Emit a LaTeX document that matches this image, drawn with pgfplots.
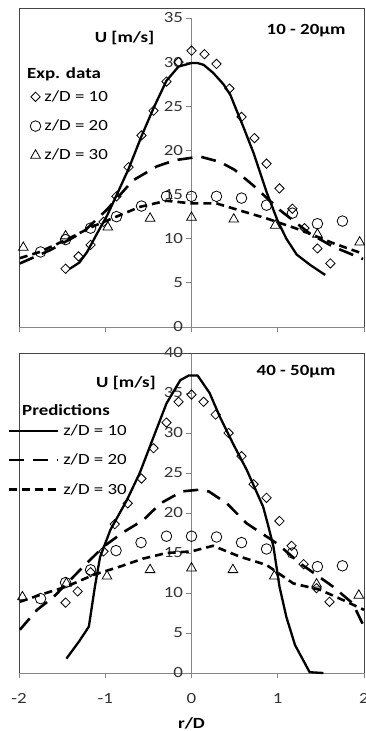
\documentclass[border=0pt]{standalone}
\usepackage{pgfplots}
\pgfplotsset{compat=1.18}
\usepackage{fontspec}
\setmainfont{Carlito}[FakeStretch=1.22]
\definecolor{axisgray}{RGB}{134,134,134}
\definecolor{framecol}{RGB}{70,70,70}
\definecolor{txtcol}{RGB}{50,50,50}

\pgfplotstableread{
x y
-1.46 6.6
-1.31 8.0
-1.17 9.3
-1.02 11.9
-0.87 14.8
-0.73 18.1
-0.58 21.7
-0.44 24.5
-0.29 27.8
-0.15 30.0
0 31.3
0.15 30.9
0.29 29.8
0.44 27.0
0.58 23.8
0.73 21.4
0.87 18.5
1.02 15.7
1.17 13.4
1.31 11.2
1.46 8.9
1.61 7.2
}\TexpA
\pgfplotstableread{
x y
-1.75 8.5
-1.46 9.9
-1.17 11.2
-0.87 12.5
-0.58 13.7
-0.29 14.8
0 14.8
0.29 14.8
0.58 14.6
0.87 13.8
1.17 12.9
1.46 11.7
1.75 12.0
}\TexpB
\pgfplotstableread{
x y
-1.95 9.0
-1.46 10.3
-0.97 11.3
-0.48 12.3
0 12.4
0.49 12.2
0.97 11.5
1.46 10.5
1.95 9.6
}\TexpC
\pgfplotstableread{
x y
-1.41 6.6
-1.30 7.3
-1.21 8.5
-1.10 10.5
-0.98 12.6
-0.87 14.9
-0.73 17.9
-0.58 21.6
-0.44 24.8
-0.29 27.9
-0.15 29.5
0 29.9
0.07 29.9
0.14 29.7
0.25 28.8
0.37 27.5
0.45 26.3
0.52 24.6
0.60 22.7
0.72 19.7
0.87 15.3
1.00 12.0
1.10 10.0
1.22 8.2
1.38 7.0
1.55 5.9
}\TpreA
\pgfplotstableread{
x y
-1.99 7.2
-1.64 8.7
-1.25 10.8
-0.98 13.3
-0.68 16.6
-0.40 18.2
-0.19 18.9
0.10 19.3
0.33 18.7
0.50 17.8
0.72 16.0
1.03 13.2
1.37 10.6
1.64 9.1
1.99 7.7
}\TpreB
\pgfplotstableread{
x y
-1.99 7.8
-1.76 8.5
-1.45 9.9
-1.14 11.4
-0.87 12.5
-0.60 13.6
-0.29 14.3
0 14.0
0.29 14.0
0.56 13.2
0.87 12.3
1.26 11.0
1.64 9.5
1.99 8.3
}\TpreC

\pgfplotstableread{
x y
-1.46 8.8
-1.32 10.2
-1.17 12.6
-1.02 15.2
-0.89 18.6
-0.74 21.2
-0.58 24.3
-0.44 28.1
-0.29 31.3
-0.15 33.9
0 34.8
0.14 33.9
0.28 32.3
0.43 30.0
0.58 27.1
0.72 23.6
0.87 21.9
1.02 19.0
1.16 15.9
1.30 13.6
1.45 10.6
1.60 8.9
}\BexpA
\pgfplotstableread{
x y
-1.75 9.3
-1.46 11.3
-1.17 12.9
-0.875 15.3
-0.585 16.3
-0.29 17.1
0 17.1
0.29 17.0
0.58 16.3
0.87 15.5
1.17 15.0
1.46 13.3
1.75 13.4
}\BexpB
\pgfplotstableread{
x y
-1.96 9.5
-1.45 11.2
-0.98 12.1
-0.48 12.9
0 13.1
0.48 12.9
0.96 12.1
1.45 11.1
1.94 9.7
}\BexpC
\pgfplotstableread{
x y
-1.45 1.8
-1.30 4.0
-1.19 5.8
-1.12 10.8
-1.06 14.5
-0.94 17.9
-0.75 21.6
-0.60 25.0
-0.44 29.5
-0.29 33.7
-0.13 36.6
-0.03 37.2
0.07 37.2
0.21 35.0
0.33 32.0
0.48 28.7
0.64 25.4
0.83 20.8
0.88 18.8
0.95 15.8
1.02 10.8
1.10 7.0
1.20 3.5
1.37 0.1
1.53 0.0
}\BpreA
\pgfplotstableread{
x y
-1.99 5.4
-1.79 7.9
-1.60 9.5
-1.29 12.9
-1.02 15.8
-0.79 17.6
-0.56 19.1
-0.36 21.2
-0.11 22.7
0.08 22.9
0.20 22.7
0.41 21.2
0.64 18.7
0.99 16.2
1.26 13.7
1.64 10.8
1.87 8.7
2.00 5.8
}\BpreB
\pgfplotstableread{
x y
-1.99 8.9
-1.76 9.75
-1.45 10.8
-1.14 12.25
-0.83 13.3
-0.56 14.3
-0.29 15.0
0 15.2
0.25 15.9
0.56 14.55
0.87 13.5
1.18 11.2
1.49 10.4
1.76 9.1
2.00 7.9
}\BpreC

\pgfplotsset{
  chartbase/.style={
    scale only axis, width=345pt,
    xmin=-2, xmax=2, ymin=0,
    axis x line=bottom, axis y line=middle,
    axis line style={draw=axisgray, line width=0.9pt, -},
    tick style={draw=axisgray, line width=0.9pt},
    major tick length=5pt,
    tick align=outside,
    hide obscured x ticks=false,
    hide obscured y ticks=false,
    xtick={-2,-1,0,1,2},
    ticklabel style={font=\fontsize{15.5}{17}\selectfont, text=txtcol},
    clip=false,
    /pgf/number format/assume math mode=true,
    legend cell align=left,
  },
  expA/.style={only marks, mark=square, mark size=3.3pt, mark options={rotate=45, draw=black, line width=0.8pt, fill=none}},
  expB/.style={only marks, mark=o, mark size=5.3pt, mark options={draw=black, line width=0.8pt}},
  expC/.style={only marks, mark=triangle, mark size=5.6pt, mark options={draw=black, line width=0.8pt}},
  preA/.style={black, line width=2.3pt, no marks},
  preB/.style={black, line width=2.6pt, no marks, dash pattern=on 15pt off 9pt},
  preC/.style={black, line width=2.6pt, no marks, dash pattern=on 8pt off 5pt},
}

\begin{document}
\begin{tikzpicture}
\useasboundingbox (-19pt,-404pt) rectangle (347pt,327pt);
% ---------------- top panel ----------------
\begin{axis}[chartbase,
  at={(0pt,0pt)}, anchor=south west,
  height=309pt, ymax=35,
  ytick={0,5,...,35},
  xticklabels={,,,,},
  ylabel={\bfseries U [m/s]},
  ylabel style={at={(axis description cs:0.306,0.935)}, anchor=center, font=\fontsize{15.5}{17}\selectfont, text=black},
  legend style={draw=none, fill=none, at={(axis description cs:0.032,0.767)}, anchor=north west,
    inner sep=0pt, row sep=16pt, column sep=3pt,
    font=\fontsize{15.5}{17}\selectfont, nodes={inner sep=0.5pt}},
]
\draw[framecol, line width=0.9pt] (axis cs:-2,0) -- (axis cs:-2,36.13) -- (axis cs:2.01,36.13) -- (axis cs:2.01,0);
\addplot[expA] table {\TexpA}; \addlegendentry{z/D = 10}
\addplot[expB] table {\TexpB}; \addlegendentry{z/D = 20}
\addplot[expC] table {\TexpC}; \addlegendentry{z/D = 30}
\addplot[preA, forget plot] table {\TpreA};
\addplot[preB, forget plot] table {\TpreB};
\addplot[preC, forget plot] table {\TpreC};
\node[font=\fontsize{15.5}{17}\selectfont\bfseries, anchor=center, inner sep=0pt] at (axis description cs:0.832,0.958) {10 - 20μm};
\node[font=\fontsize{15.5}{17}\selectfont\bfseries, anchor=west, inner sep=0pt] at (axis description cs:0.023,0.819) {Exp. data};
\end{axis}
% ---------------- bottom panel ----------------
\begin{axis}[chartbase,
  at={(0pt,-346pt)}, anchor=south west,
  height=320pt, ymax=40,
  ytick={0,5,...,40},
  xticklabels={-2,-1,0,1,2},
  xticklabel style={yshift=-12pt},
  xlabel={\bfseries r/D},
  xlabel style={at={(axis description cs:0.5,0)}, anchor=center, yshift=-50pt, font=\fontsize{15.5}{17}\selectfont, text=black},
  ylabel={\bfseries U [m/s]},
  ylabel style={at={(axis description cs:0.310,0.906)}, anchor=center, font=\fontsize{15.5}{17}\selectfont, text=black},
  legend image code/.code={\draw[#1] (0pt,0pt) -- (49pt,0pt);},
  legend style={draw=none, fill=none, at={(axis description cs:-0.032,0.778)}, anchor=north west,
    inner sep=0pt, row sep=16pt, column sep=3pt,
    font=\fontsize{15.5}{17}\selectfont, nodes={inner sep=0.5pt}},
]
\draw[framecol, line width=0.9pt] (axis cs:-2,0) -- (axis cs:-2,40) -- (axis cs:2,40) -- (axis cs:2,0);
\addplot[preA] table {\BpreA}; \addlegendentry{z/D = 10}
\addplot[preB] table {\BpreB}; \addlegendentry{z/D = 20}
\addplot[preC] table {\BpreC}; \addlegendentry{z/D = 30}
\addplot[expA, forget plot] table {\BexpA};
\addplot[expB, forget plot] table {\BexpB};
\addplot[expC, forget plot] table {\BexpC};
\node[font=\fontsize{15.5}{17}\selectfont\bfseries, anchor=center, inner sep=0pt] at (axis description cs:0.803,0.941) {40 - 50μm};
\node[font=\fontsize{15.5}{17}\selectfont\bfseries, anchor=west, inner sep=0pt] at (axis description cs:0.0087,0.822) {Predictions};
\end{axis}
\end{tikzpicture}
\end{document}
